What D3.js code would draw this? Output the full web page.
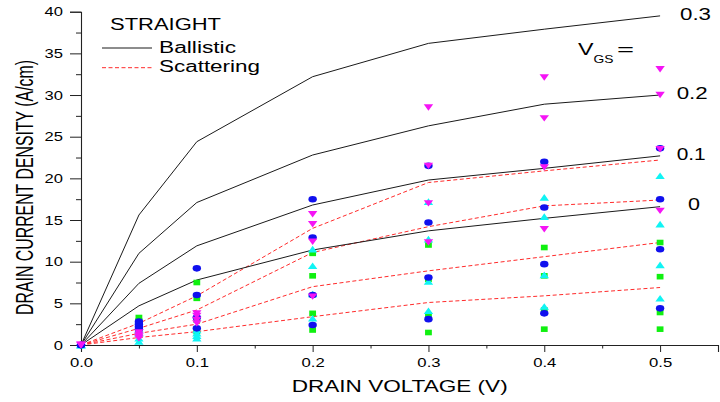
<!DOCTYPE html>
<html>
<head>
<meta charset="utf-8">
<script src="https://cdn.jsdelivr.net/npm/d3@7"></script>
<style>
  html, body { margin: 0; padding: 0; background: #fff; }
  svg { display: block; font-family: Arial, "Liberation Sans", sans-serif; }
</style>
</head>
<body>
<svg id="chart" width="720" height="402"></svg>
<script>
// Drain voltage sample points (V)
const drainVoltage = [0, 0.05, 0.1, 0.2, 0.3, 0.4, 0.5];
// Gate voltages, highest first
const vgsLabels = ["0.3", "0.2", "0.1", "0"];

// Ballistic model, one row per gate voltage (A/cm)
const ballistic = [
  [0, 15.6, 24.4, 32.2, 36.2, 37.9, 39.5],
  [0, 11.0, 17.1, 22.8, 26.3, 28.9, 30.0],
  [0, 7.4, 11.9, 16.8, 19.8, 21.2, 22.7],
  [0, 4.7, 7.8, 11.4, 13.7, 15.2, 16.6]
];
// Scattering model, one row per gate voltage (A/cm)
const scattering = [
  [0, 2.6, 5.9, 14.0, 19.5, 20.9, 22.2],
  [0, 2.0, 4.2, 11.1, 14.2, 16.7, 17.4],
  [0, 1.4, 2.5, 7.0, 8.9, 10.6, 12.3],
  [0, 0.9, 1.6, 3.4, 5.1, 5.9, 6.9]
];
// Simulated points, four families of four gate voltages each
const squarePts = [
  [0, 3.3, 7.5, 11.0, 12.0, 11.7, 12.3],
  [0, 2.9, 5.6, 8.3, 7.9, 8.3, 8.2],
  [0, 2.1, 3.0, 3.8, 3.6, 4.2, 3.9],
  [0, 1.5, 1.6, 1.8, 1.5, 1.9, 1.9]
];
const upTrianglePts = [
  [0, 1.8, 1.8, 11.5, 17.2, 17.7, 20.3],
  [0, 1.4, 1.4, 9.5, 12.7, 15.4, 14.5],
  [0, 0.8, 1.1, 6.1, 7.6, 8.4, 9.6],
  [0, 0.4, 0.8, 3.2, 4.1, 4.6, 5.6]
];
const circlePts = [
  [0, 2.8, 9.2, 17.5, 21.5, 22.0, 23.6],
  [0, 2.5, 6.0, 12.9, 14.7, 16.5, 17.5],
  [0, 2.2, 3.3, 6.0, 8.1, 9.7, 11.5],
  [0, 1.9, 2.0, 2.4, 3.1, 3.8, 4.4]
];
const downTrianglePts = [
  [0, 1.5, 3.8, 15.7, 28.5, 32.1, 33.1],
  [0, 1.2, 3.5, 14.5, 21.5, 27.2, 30.0],
  [0, 1.0, 3.0, 12.4, 17.0, 21.3, 23.5],
  [0, 0.8, 2.6, 5.8, 12.3, 13.9, 16.1]
];

const yMajorTicks = [0, 5, 10, 15, 20, 25, 30, 35, 40];
const yMinorTicks = [2.5, 7.5, 12.5, 17.5, 22.5, 27.5, 32.5, 37.5];
const xMajorTicks = [0, 0.1, 0.2, 0.3, 0.4, 0.5];
const xMinorTicks = [0.05, 0.15, 0.25, 0.35, 0.45, 0.55];

const svg = d3.select("#chart");
const x = d3.scaleLinear().domain([0, 0.55]).range([81, 718]);
const y = d3.scaleLinear().domain([0, 40]).range([345, 11.7]);

// glyphs are drawn wide: each digit ~9.2px, dot ~4.8px
const labelWidth = s => [...s].reduce((w, c) => w + (c === "." ? 4.8 : 9.2), 0);

// Axes
const yAxis = svg.append("g").attr("transform", `translate(${x(0)},0)`)
  .call(d3.axisLeft(y).tickValues(yMajorTicks).tickSize(11).tickPadding(7).tickFormat(d3.format("d")));
svg.append("g").attr("transform", `translate(${x(0)},0)`)
  .call(d3.axisLeft(y).tickValues(yMinorTicks).tickSize(5).tickFormat(""))
  .select(".domain").remove();
const xAxis = svg.append("g").attr("transform", `translate(0,${y(0)})`)
  .call(d3.axisBottom(x).tickValues(xMajorTicks).tickSize(7).tickPadding(6).tickFormat(d3.format(".1f")));
svg.append("g").attr("transform", `translate(0,${y(0)})`)
  .call(d3.axisBottom(x).tickValues(xMinorTicks).tickSize(3.5).tickFormat(""))
  .select(".domain").remove();

svg.selectAll(".domain").attr("stroke", "#222").attr("stroke-width", 1.1);
svg.selectAll(".tick line").attr("stroke", "#222").attr("stroke-width", 1);
[yAxis, xAxis].forEach(g => g.selectAll(".tick text")
  .attr("font-size", 13).attr("fill", "#000")
  .attr("font-family", "Arial, 'Liberation Sans', sans-serif")
  .each(function () {
    const t = d3.select(this);
    t.attr("textLength", labelWidth(t.text())).attr("lengthAdjust", "spacingAndGlyphs");
  }));

// Axis titles
svg.append("text").attr("x", 291.7).attr("y", 391.7)
  .attr("font-size", 16).attr("fill", "#000")
  .attr("textLength", 216).attr("lengthAdjust", "spacingAndGlyphs")
  .text("DRAIN VOLTAGE (V)");
svg.append("text").attr("transform", "translate(33,315) scale(1.55,1) rotate(-90)")
  .attr("font-size", 16).attr("fill", "#000")
  .attr("textLength", 255).attr("lengthAdjust", "spacingAndGlyphs")
  .text("DRAIN CURRENT DENSITY (A/cm)");

// Model curves
const line = d3.line().x((d, i) => x(drainVoltage[i])).y(d => y(d));
svg.append("g").selectAll("path").data(scattering).join("path")
  .attr("d", line).attr("fill", "none")
  .attr("stroke", "#ff2b2b").attr("stroke-width", 1).attr("stroke-dasharray", "4,2.5");
svg.append("g").selectAll("path").data(ballistic).join("path")
  .attr("d", line).attr("fill", "none")
  .attr("stroke", "#1a1a1a").attr("stroke-width", 1);

// Markers
const shapes = {
  square: "M-3.4,-2.8H3.4V2.8H-3.4Z",
  up: "M0,-3.4L4.7,3.2L-4.7,3.2Z",
  down: "M0,3.2L4.7,-3.2L-4.7,-3.2Z"
};
function drawPoints(rows, color, kind) {
  const pts = rows.flatMap(r => r.map((v, i) => [drainVoltage[i], v]));
  const g = svg.append("g").attr("fill", color);
  if (kind === "circle") {
    g.selectAll("ellipse").data(pts).join("ellipse")
      .attr("cx", d => x(d[0])).attr("cy", d => y(d[1]))
      .attr("rx", 4.2).attr("ry", 3.3);
  } else {
    g.selectAll("path").data(pts).join("path")
      .attr("transform", d => `translate(${x(d[0])},${y(d[1])})`)
      .attr("d", shapes[kind]);
  }
}
drawPoints(squarePts, "#10f010", "square");
drawPoints(upTrianglePts, "#10f4f4", "up");
drawPoints(circlePts, "#1010ee", "circle");
drawPoints(downTrianglePts, "#f514f5", "down");

// Legend
svg.append("text").attr("x", 110).attr("y", 30).attr("font-size", 16).attr("fill", "#000")
  .attr("textLength", 111).attr("lengthAdjust", "spacingAndGlyphs").text("STRAIGHT");
svg.append("line").attr("x1", 102).attr("x2", 152).attr("y1", 48).attr("y2", 48)
  .attr("stroke", "#1a1a1a").attr("stroke-width", 1);
svg.append("text").attr("x", 159).attr("y", 53.3).attr("font-size", 16).attr("fill", "#000")
  .attr("textLength", 77).attr("lengthAdjust", "spacingAndGlyphs").text("Ballistic");
svg.append("line").attr("x1", 102).attr("x2", 152).attr("y1", 67.7).attr("y2", 67.7)
  .attr("stroke", "#ff2b2b").attr("stroke-width", 1).attr("stroke-dasharray", "4,2.5");
svg.append("text").attr("x", 159).attr("y", 72.3).attr("font-size", 16).attr("fill", "#000")
  .attr("textLength", 101).attr("lengthAdjust", "spacingAndGlyphs").text("Scattering");

// Gate-voltage annotations
const vgsPos = [[680, 20, 31], [676.7, 99, 31], [676.7, 160, 29], [688, 210, 12]];
vgsLabels.forEach((s, i) => {
  svg.append("text").attr("x", vgsPos[i][0]).attr("y", vgsPos[i][1])
    .attr("font-size", 16).attr("fill", "#000")
    .attr("textLength", vgsPos[i][2]).attr("lengthAdjust", "spacingAndGlyphs").text(s);
});
svg.append("text").attr("x", 578).attr("y", 55).attr("font-size", 16).attr("fill", "#000")
  .attr("textLength", 15.5).attr("lengthAdjust", "spacingAndGlyphs").text("V");
svg.append("text").attr("x", 593.5).attr("y", 63.3).attr("font-size", 11).attr("fill", "#000")
  .attr("textLength", 20).attr("lengthAdjust", "spacingAndGlyphs").text("GS");
svg.append("text").attr("x", 617).attr("y", 55).attr("font-size", 16).attr("fill", "#000")
  .attr("textLength", 17).attr("lengthAdjust", "spacingAndGlyphs").text("=");
</script>
</body>
</html>
